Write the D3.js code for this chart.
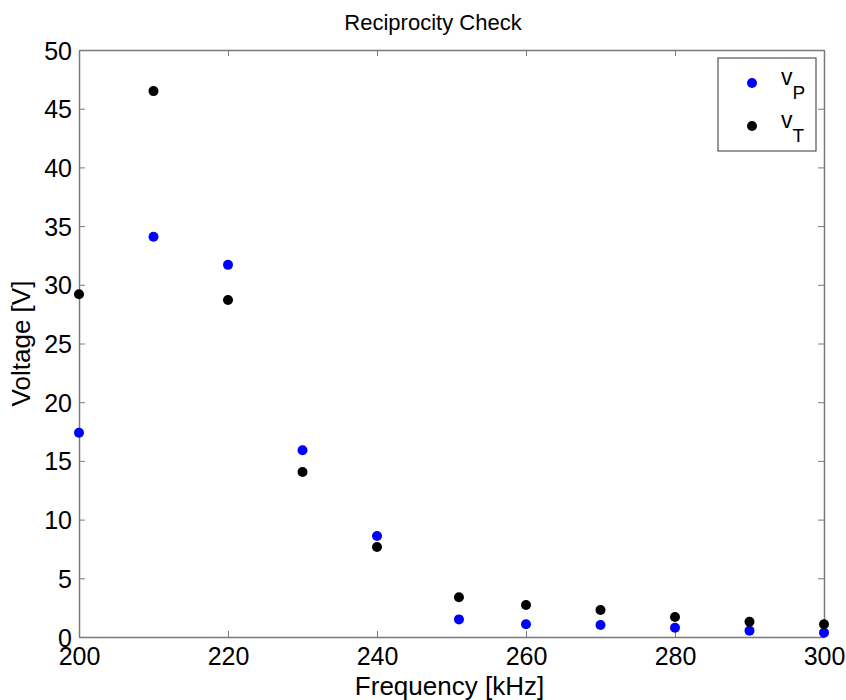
<!DOCTYPE html>
<html>
<head>
<meta charset="utf-8">
<script src="https://cdn.jsdelivr.net/npm/d3@7/dist/d3.min.js"></script>
<style>
  html, body { margin: 0; padding: 0; background: #fff; }
  svg { display: block; font-family: "Liberation Sans", Arial, sans-serif; }
</style>
</head>
<body>
<svg id="chart" width="846" height="700"></svg>
<script>
// Measured frequencies (kHz) and voltages (V)
const freqs = [200, 210, 220, 230, 240, 251, 260, 270, 280, 290, 300];
const vP = [17.4, 34.1, 31.7, 15.9, 8.6, 1.5, 1.08, 1.02, 0.79, 0.54, 0.37];
const vT = [29.2, 46.5, 28.7, 14.05, 7.67, 3.38, 2.73, 2.3, 1.7, 1.3, 1.08];
const xTicks = [200, 220, 240, 260, 280, 300];
const yTicks = [0, 5, 10, 15, 20, 25, 30, 35, 40, 45, 50];
const seriesNames = ["P", "T"];

const svg = d3.select("#chart");
const plotL = 79, plotR = 824, plotT = 50, plotB = 637;
const axisColor = "#7a7a7a";
const tickFont = 25;

const x = d3.scaleLinear().domain([200, 300]).range([plotL, plotR]);
const y = d3.scaleLinear().domain([0, 50]).range([plotB, plotT]);

// Axes with inward ticks on all four sides (boxed plot)
const tickLen = 6;
const gx = svg.append("g").attr("transform", `translate(0,${plotB})`)
  .call(d3.axisBottom(x).tickValues(xTicks).tickSizeInner(-tickLen).tickSizeOuter(0).tickPadding(10));
const gxTop = svg.append("g").attr("transform", `translate(0,${plotT})`)
  .call(d3.axisTop(x).tickValues(xTicks).tickSizeInner(-tickLen).tickSizeOuter(0).tickFormat(""));
const gy = svg.append("g").attr("transform", `translate(${plotL},0)`)
  .call(d3.axisLeft(y).tickValues(yTicks).tickSizeInner(-tickLen).tickSizeOuter(0).tickPadding(7));
const gyRight = svg.append("g").attr("transform", `translate(${plotR},0)`)
  .call(d3.axisRight(y).tickValues(yTicks).tickSizeInner(-tickLen).tickSizeOuter(0).tickFormat(""));

[gx, gxTop, gy, gyRight].forEach(g => {
  g.select(".domain").attr("stroke", axisColor).attr("stroke-width", 1.5);
  g.selectAll(".tick line").attr("stroke", axisColor).attr("stroke-width", 1);
  g.selectAll(".tick text").attr("fill", "#000").attr("font-size", tickFont)
    .attr("font-family", "'Liberation Sans', Arial, sans-serif");
});
gy.selectAll(".tick text").attr("dy", "0.36em");

// Points
const pts = freqs.map((f, i) => ({ f, p: vP[i], t: vT[i] }));
svg.append("g").selectAll("circle").data(pts).join("circle")
  .attr("cx", d => x(d.f)).attr("cy", d => y(d.p)).attr("r", 5).attr("fill", "#0000ff");
svg.append("g").selectAll("circle").data(pts).join("circle")
  .attr("cx", d => x(d.f)).attr("cy", d => y(d.t)).attr("r", 5).attr("fill", "#000");

// Title and axis labels
svg.append("text").attr("x", 433).attr("y", 30).attr("text-anchor", "middle")
  .attr("font-size", 22).text("Reciprocity Check");
svg.append("text").attr("x", (plotL + plotR) / 2 - 2).attr("y", 695).attr("text-anchor", "middle")
  .attr("font-size", 26).text("Frequency [kHz]");
svg.append("text").attr("transform", `translate(30,${(plotT + plotB) / 2}) rotate(-90)`)
  .attr("text-anchor", "middle").attr("font-size", 26).text("Voltage [V]");

// Legend
const legend = svg.append("g");
legend.append("rect").attr("x", 718).attr("y", 58).attr("width", 98).attr("height", 93)
  .attr("fill", "#fff").attr("stroke", "#333").attr("stroke-width", 1);
const legendColors = ["#0000ff", "#000"];
seriesNames.forEach((name, i) => {
  const cy = 83 + i * 43;
  legend.append("circle").attr("cx", 752).attr("cy", cy).attr("r", 5).attr("fill", legendColors[i]);
  const t = legend.append("text").attr("x", 781).attr("y", cy + 2).attr("font-size", 23);
  t.append("tspan").text("v");
  t.append("tspan").attr("dy", 14).attr("font-size", 19).text(name);
});
</script>
</body>
</html>
